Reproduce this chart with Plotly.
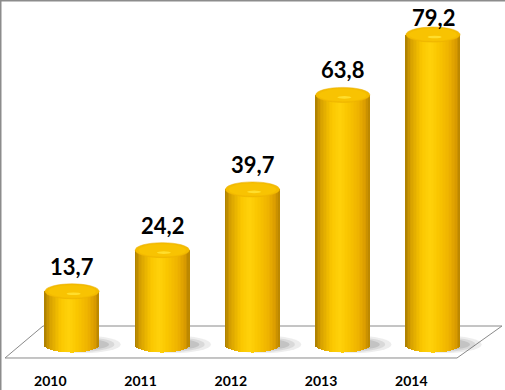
import numpy as np
import plotly.graph_objects as go

years = ["2010", "2011", "2012", "2013", "2014"]
values = [13.7, 24.2, 39.7, 63.8, 79.2]
labels = ["13,7", "24,2", "39,7", "63,8", "79,2"]

W, H = 505, 390
MB = 30
PLOT_H = H - MB
PX_PER_X = 90.25
X_FIRST_PX = 72
PX_PER_Y = 3.92
BASE_PX = 345

x_lo = -X_FIRST_PX / PX_PER_X
x_hi = x_lo + W / PX_PER_X
y_hi = BASE_PX / PX_PER_Y
y_lo = y_hi - PLOT_H / PX_PER_Y

xs = list(range(len(years)))
BAR_W = 0.6
RY = 7.5 / PX_PER_Y
N = 36

stops = [(0.0, (170, 125, 0)), (0.1, (214, 160, 0)), (0.3, (250, 198, 0)),
         (0.45, (255, 210, 10)), (0.6, (250, 198, 0)), (0.8, (238, 178, 0)),
         (0.93, (216, 154, 0)), (1.0, (182, 132, 0))]


def grad(t):
    for (t0, c0), (t1, c1) in zip(stops[:-1], stops[1:]):
        if t0 <= t <= t1:
            f = (t - t0) / (t1 - t0)
            c = [round(a + (b - a) * f) for a, b in zip(c0, c1)]
            return "rgb(%d,%d,%d)" % tuple(c)
    return "rgb(%d,%d,%d)" % stops[-1][1]


fig = go.Figure()
sw = BAR_W / N
for j in range(N):
    t = (j + 0.5) / N
    u = (t - 0.5) * 2
    b = -RY * np.sqrt(max(0.0, 1 - u * u))
    fig.add_trace(go.Bar(
        x=xs, y=[v - b for v in values], base=[b] * len(values),
        width=sw * 1.15, offset=-BAR_W / 2 + j * sw,
        marker=dict(color=grad(t), line=dict(width=0)),
        hoverinfo="skip", showlegend=False))

shapes = []


def pp(px, py):
    return px / W, (PLOT_H - py) / PLOT_H


fl = [pp(5, 358), pp(457, 358), pp(502, 326), pp(43, 326)]
path = "M " + " L ".join("%f,%f" % p for p in fl) + " Z"
shapes.append(dict(type="path", xref="paper", yref="paper", path=path,
                   fillcolor="white", line=dict(color="#8a8a8a", width=1), layer="below"))
# soft shadows
for i in xs:
    for dx, rx, ry, op in [(0.12, 0.42, 2.3, 0.12), (0.1, 0.37, 1.9, 0.15), (0.08, 0.33, 1.5, 0.2)]:
        shapes.append(dict(type="circle", xref="x", yref="y",
                           x0=i + dx - rx, x1=i + dx + rx, y0=-ry * 0.9, y1=ry * 0.9 + 0.3,
                           fillcolor="rgba(110,110,110,%.2f)" % op, line=dict(width=0), layer="below"))
# top ellipses
for i, v in zip(xs, values):
    shapes.append(dict(type="circle", xref="x", yref="y",
                       x0=i - BAR_W / 2, x1=i + BAR_W / 2, y0=v - RY, y1=v + RY,
                       fillcolor="rgb(244,188,0)", line=dict(color="rgb(232,174,0)", width=0.5)))
    shapes.append(dict(type="circle", xref="x", yref="y",
                       x0=i - BAR_W * 0.44, x1=i + BAR_W * 0.44, y0=v - RY * 0.85, y1=v + RY * 0.8,
                       fillcolor="rgb(248,195,2)", line=dict(width=0)))
    shapes.append(dict(type="circle", xref="x", yref="y",
                       x0=i - BAR_W * 0.1, x1=i + BAR_W * 0.16, y0=v - RY * 0.5, y1=v - RY * 0.15,
                       fillcolor="rgb(255,222,45)", line=dict(width=0)))
# border
shapes.append(dict(type="line", xref="paper", yref="paper", x0=0, x1=1, y0=1, y1=1,
                   line=dict(color="#8c8c8c", width=3)))
shapes.append(dict(type="line", xref="paper", yref="paper", x0=0, x1=0, y0=-MB / PLOT_H, y1=1,
                   line=dict(color="#8c8c8c", width=3)))

annotations = []
for i, v, lab in zip(xs, values, labels):
    ell_py = BASE_PX - v * PX_PER_Y
    shift = min(25, ell_py - 17)
    annotations.append(dict(x=i, y=v, xref="x", yref="y", text="<b>%s</b>" % lab,
                            showarrow=False, yshift=shift, yanchor="middle",
                            font=dict(family="Lato", size=22, color="black")))

fig.update_layout(
    width=W, height=H, margin=dict(l=0, r=0, t=0, b=MB),
    paper_bgcolor="white", plot_bgcolor="white",
    barmode="overlay", bargap=0,
    shapes=shapes, annotations=annotations,
    xaxis=dict(range=[x_lo, x_hi], showgrid=False, zeroline=False, showline=False,
               tickvals=[i - 0.24 for i in xs], ticktext=["<b>%s</b>" % y for y in years],
               ticks="outside", ticklen=8, tickcolor="rgba(0,0,0,0)",
               tickfont=dict(family="Lato", size=14, color="black")),
    yaxis=dict(range=[y_lo, y_hi], visible=False),
)
fig.write_html("out.html")
